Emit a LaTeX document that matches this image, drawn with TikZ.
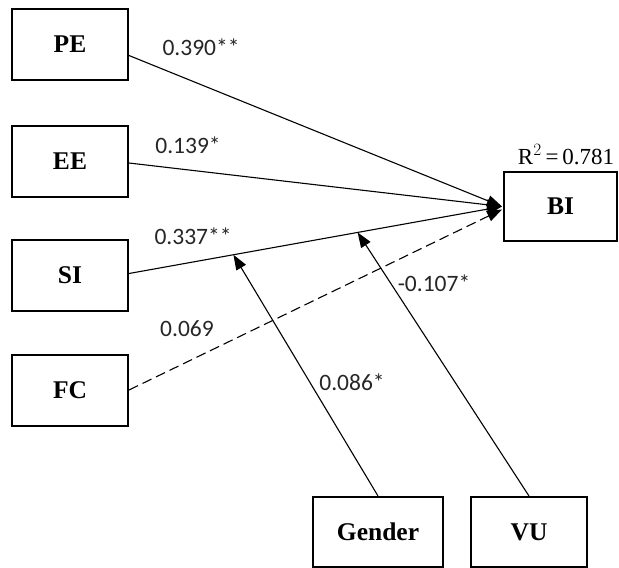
\documentclass[tikz,border=0pt]{standalone}
\usepackage{fontspec}
\setmainfont{Liberation Serif}
\newfontfamily\lblfont{Carlito}
\usetikzlibrary{arrows.meta,calc}
\begin{document}
\begin{tikzpicture}[x=1pt,y=-1pt,
  construct/.style={draw,line width=2pt,minimum width=116pt,minimum height=71pt,
    inner sep=0pt,font=\fontsize{25.5}{28}\selectfont\bfseries},
  path/.style={line width=1.1pt,-{Triangle[length=15pt,width=11pt]}},
  coef/.style={font=\fontsize{23.5}{26}\lblfont,text=black!85,inner sep=0pt}]
\useasboundingbox (0,0) rectangle (619,568);
% exogenous constructs
\node[construct] (PE) at (70,44.5) {PE};
\node[construct] (EE) at (70,161) {EE};
\node[construct] (SI) at (70,275.5) {SI};
\node[construct] (FC) at (70,390) {FC};
% endogenous construct
\node[construct,minimum width=113pt,minimum height=69pt] (BI) at (560.5,206.5) {BI};
\node[font=\fontsize{23}{26}\selectfont,inner sep=0pt] (R2) at (566,155) {R$^{2}$\,=\,0.781};
% moderators
\node[construct,minimum width=130pt,minimum height=70pt] (G) at (378,532) {Gender};
\node[construct,minimum width=116pt,minimum height=70pt] (VU) at (529,532) {VU};
% structural paths
\coordinate (tip) at ([xshift=-1pt]BI.west);
\draw[path] ([yshift=-11pt]PE.east) -- (tip);
\draw[path] ([yshift=-2pt]EE.east) -- (tip);
\draw[path] ([yshift=2pt]SI.east) -- (tip);
\draw[path,dashed,dash pattern=on 10pt off 5pt] (FC.east) -- ([yshift=-3pt]tip);
% moderating effects on SI -> BI
\coordinate (gm) at ($([yshift=2pt]SI.east)!0.28!(tip)$);
\coordinate (vm) at ($([yshift=2pt]SI.east)!0.613!(tip)$);
\draw[path] (G.north) -- (gm);
\draw[path] (VU.north) -- (vm);
% path coefficients
\node[coef] (c1) at (201,47) {0.390**};
\node[coef] (c2) at (188,145) {0.139*};
\node[coef] (c3) at (193,236) {0.337**};
\node[coef] (c4) at (187,329) {0.069};
\node[coef] (c5) at (352,382) {0.086*};
\node[coef] (c6) at (434,283) {-0.107*};
\end{tikzpicture}
\end{document}
